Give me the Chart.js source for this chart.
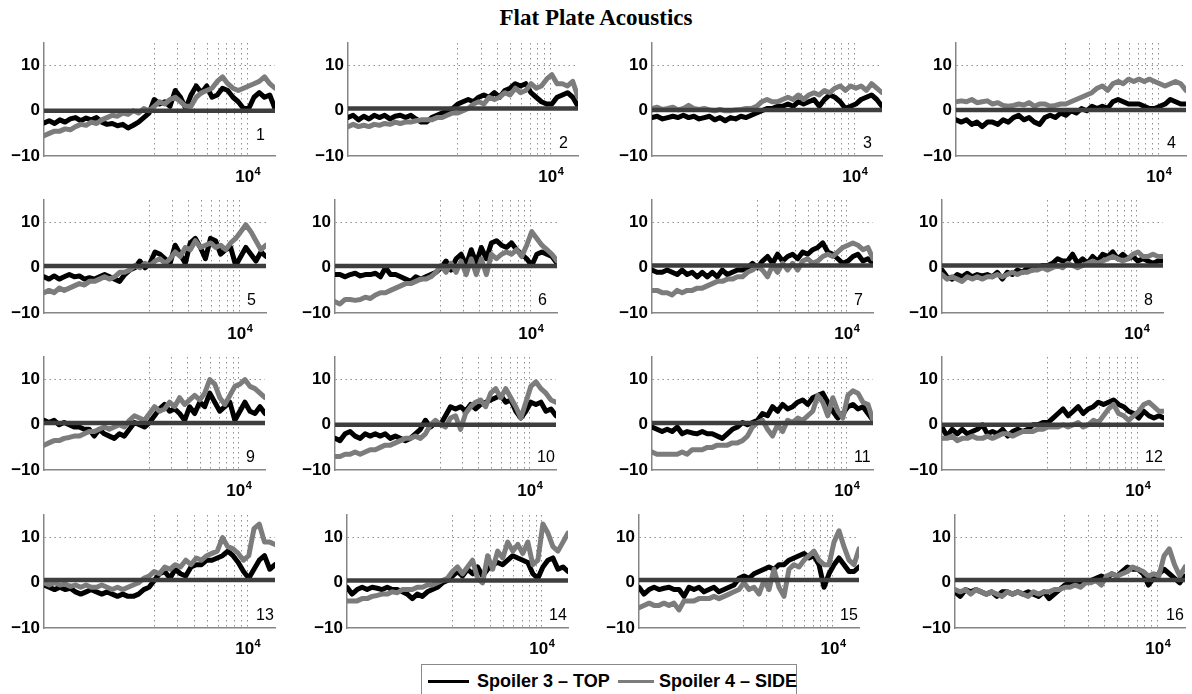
<!DOCTYPE html>
<html>
<head>
<meta charset="utf-8">
<title>Flat Plate Acoustics</title>
<script src="https://cdn.jsdelivr.net/npm/chart.js@4.4.1/dist/chart.umd.min.js"></script>
<style>
  html, body { margin: 0; padding: 0; background: #fff; }
  body { width: 1192px; height: 694px; overflow: hidden; position: relative;
         font-family: "Liberation Sans", Arial, sans-serif; }
  #title { position: absolute; left: 0; top: 5px; width: 1192px; text-align: center;
           font: bold 23px "Liberation Serif", "Times New Roman", serif; color: #000; }
  canvas { position: absolute; }
  #legend { position: absolute; left: 421px; top: 664px; width: 376px; height: 44px;
            border: 1px solid #8a8a8a; box-sizing: border-box; background: #fff; }
  #legend .sw { position: absolute; height: 3px; top: 15px; }
  #legend .tx { position: absolute; top: 6px; line-height: 20px; font-weight: bold; font-size: 18px;
                color: #000; white-space: nowrap; }
</style>
</head>
<body>
<div id="title">Flat Plate Acoustics</div>
<div id="legend">
  <div class="sw" style="left:6px;width:41px;background:#000"></div>
  <div class="tx" style="left:55px">Spoiler 3 – TOP</div>
  <div class="sw" style="left:196px;width:36px;background:#7c7c7c"></div>
  <div class="tx" style="left:237px">Spoiler 4 – SIDE</div>
</div>
<script>
// ---- data -------------------------------------------------------------
// frequency samples (Hz), shared by every panel
const freqHz = [300, 328, 360, 394, 431, 472, 516, 565, 619, 677,
                741, 811, 888, 972, 1063, 1164, 1274, 1395, 1527, 1671,
                1829, 2002, 2191, 2398, 2625, 2873, 3145, 3442, 3768, 4124,
                4514, 4941, 5409, 5921, 6481, 7094, 7765, 8499, 9303, 10183,
                11146, 12201, 13355, 14618, 16000];
const gridFreq = [2000, 3000, 4000, 5000, 6000, 7000, 8000, 9000, 10000];
const yTicks = [-10, 0, 10];

// Spoiler 3 - TOP (black) per microphone
const top1 = [-2.7,-2.2,-2.8,-2.0,-2.5, -1.8,-1.5,-2.2,-1.6,-2.0, -1.5,-2.5,-3.0,-2.8,-3.3, -3.0,-3.8,-3.2,-2.5,-1.5, -0.5,2.5,1.5,2.0,1.0, 4.5,3.0,0.5,3.5,5.5, 4.0,5.5,3.0,3.5,5.0, 4.5,3.0,2.0,0.5,0.5, 3.0,4.0,3.0,3.5,0.5];
const top2 = [-1.5,-1.0,-2.0,-1.2,-1.8, -1.0,-1.5,-1.0,-1.8,-1.2, -1.0,-1.5,-1.0,-1.8,-2.5, -2.5,-1.5,-1.0,-0.5,0.0, 0.5,1.5,2.0,2.5,2.0, 3.0,3.5,3.0,4.0,3.0, 4.5,5.0,6.0,5.5,6.0, 4.0,3.0,2.0,1.5,1.5, 3.0,3.5,4.0,3.0,1.0];
const top3 = [-1.5,-1.2,-1.8,-1.5,-1.2, -1.5,-1.0,-1.5,-1.2,-1.8, -1.5,-1.2,-2.0,-1.5,-2.2, -1.5,-1.8,-1.2,-1.5,-1.0, -0.5,0.0,0.5,0.5,1.0, 1.0,1.5,1.0,2.0,1.5, 2.0,2.5,1.0,2.5,3.5, 3.0,2.0,0.5,1.0,1.5, 2.5,3.0,3.5,2.5,1.0];
const top4 = [-2.0,-2.5,-2.0,-3.0,-2.5, -3.5,-2.5,-2.5,-3.0,-2.0, -2.5,-1.5,-1.0,-2.0,-1.5, -2.5,-3.0,-1.5,-1.0,-1.5, -0.5,-1.0,0.0,-0.5,0.5, 0.0,1.0,0.5,1.0,0.5, 2.0,2.5,2.0,1.5,1.5, 1.5,1.0,0.5,0.5,1.0, 1.5,2.5,2.0,1.5,1.5];
const top5 = [-2.0,-2.5,-1.8,-2.5,-2.0, -1.5,-2.0,-1.8,-2.5,-2.2, -2.5,-2.0,-1.5,-2.0,-2.5, -3.0,-1.5,-0.5,0.0,1.5, 0.0,1.0,3.5,3.0,2.0, 1.0,5.0,3.0,1.0,5.5, 6.5,4.5,2.0,6.5,6.0, 3.0,4.0,4.5,0.5,2.5, 4.5,3.0,1.5,3.5,2.5];
const top6 = [-1.5,-1.5,-2.0,-1.5,-1.2, -1.8,-1.5,-1.5,-1.2,-2.0, 0.0,-1.5,-1.5,-2.0,-2.5, -3.0,-2.0,-2.5,-2.0,-1.5, -1.0,0.0,1.5,-0.5,2.0, 3.0,0.5,4.0,1.0,4.5, 2.0,5.5,6.0,5.0,4.5, 5.5,4.0,3.0,2.0,0.5, 3.0,3.5,3.0,2.5,1.0];
const top7 = [-0.5,-1.0,-1.0,-0.5,-1.0, -1.5,-0.5,-1.5,-1.0,-2.0, -1.0,-2.0,-1.0,-2.0,-0.5, -1.5,-1.0,-0.5,-0.5,0.0, 1.0,0.0,1.5,2.5,1.0, 3.0,1.5,2.5,3.0,2.0, 3.5,3.0,4.0,4.5,5.5, 3.5,3.0,2.0,1.0,1.5, 2.5,3.0,1.5,2.0,1.0];
const top8 = [-0.5,-2.0,-2.5,-1.5,-2.0, -1.2,-2.0,-1.5,-1.8,-1.5, -2.0,-1.0,-2.5,-1.0,-1.5, -0.5,-1.0,0.0,-0.5,0.0, 0.5,0.5,1.0,2.0,1.5, 1.5,3.0,1.0,2.0,1.0, 2.5,1.5,3.0,2.5,3.5, 2.0,3.0,2.0,2.5,1.5, 2.0,1.5,1.0,1.5,1.5];
const top9 = [1.0,0.5,1.0,0.0,0.5, 0.0,-0.5,-0.5,-1.0,-1.0, -2.5,-1.0,-2.0,-2.5,-3.0, -2.0,-2.5,-1.0,0.5,0.0, -0.5,0.5,2.0,3.5,4.5, 3.0,3.5,2.5,1.0,4.0, 2.5,5.0,4.0,7.0,5.0, 3.0,4.0,5.0,1.0,3.0, 5.0,3.0,2.5,4.0,2.5];
const top10 = [-3.0,-3.5,-2.0,-1.5,-2.5, -3.0,-2.0,-2.5,-2.0,-2.5, -2.0,-3.0,-2.5,-3.0,-3.5, -3.0,-2.0,-1.0,1.0,-0.5, 0.5,0.0,2.0,4.0,3.5, 4.0,3.0,4.5,3.5,4.5, 5.0,5.5,6.0,6.5,5.0, 5.5,3.0,1.5,3.0,5.0, 4.5,5.0,3.0,3.5,2.0];
const top11 = [-0.5,-1.0,-1.5,-1.0,-1.5, -0.5,-2.0,-1.5,-1.8,-2.0, -1.5,-2.0,-2.0,-2.5,-3.0, -2.0,-1.0,-0.5,0.5,0.0, 0.5,1.0,2.5,2.0,4.0, 3.0,4.5,3.5,4.0,5.0, 5.5,4.5,6.0,6.5,7.0, 5.0,3.0,1.5,2.5,4.0, 4.5,3.5,4.0,2.5,1.0];
const top12 = [-0.5,-2.5,-1.0,-2.0,-1.0, -2.0,-1.5,-1.0,0.0,-2.0, -1.5,-2.0,-1.0,-2.5,-1.5, -1.0,-1.5,-1.0,0.0,0.0, 0.5,0.5,1.5,2.5,3.5, 2.0,3.0,4.0,2.5,3.5, 4.0,5.0,4.5,5.0,5.5, 4.5,4.0,3.0,2.5,1.5, 3.0,2.0,1.5,2.0,1.5];
const top13 = [-0.5,-1.0,-1.5,-1.0,-1.5, -1.2,-2.0,-2.5,-2.0,-1.5, -2.0,-2.5,-2.0,-2.5,-3.0, -2.5,-3.0,-3.0,-2.5,-1.5, -1.0,0.5,2.0,2.5,1.0, 3.0,2.0,1.5,3.5,4.0, 4.0,5.0,5.0,5.5,6.0, 7.0,6.0,4.5,2.5,1.0, 3.0,5.0,6.0,3.0,4.0];
const top14 = [-1.0,-2.5,-1.5,-1.0,-1.5, -1.0,-1.2,-1.5,-1.0,-1.5, -1.5,-2.0,-2.5,-3.5,-2.5, -3.0,-2.0,-1.5,-1.0,0.0, 0.5,1.5,2.5,1.5,3.0, 2.0,3.5,1.5,3.0,4.0, 4.5,4.0,5.0,6.0,5.5, 5.0,4.5,2.0,1.0,3.5, 5.0,5.5,3.0,3.5,2.5];
const top15 = [-1.0,-2.5,-1.5,-1.0,-1.5, -1.2,-1.0,-1.5,-1.5,-3.0, -1.0,-1.5,-1.0,-2.0,-1.5, -1.0,-2.0,-1.5,-1.0,-0.5, 1.0,1.5,1.0,2.0,2.5, 3.0,3.5,3.0,4.0,4.0, 5.0,5.5,6.0,6.5,5.5, 6.0,4.0,-1.0,2.0,4.0, 5.5,4.0,2.5,2.5,3.5];
const top16 = [-2.0,-3.0,-1.5,-2.0,-1.5, -2.0,-2.5,-2.0,-3.0,-2.0, -2.0,-2.5,-2.0,-2.5,-2.0, -2.5,-3.0,-2.0,-3.5,-2.5, -1.5,-0.5,0.0,-0.5,0.0, 0.5,0.5,1.0,1.5,1.0, 2.0,1.5,2.5,3.5,3.0, 3.0,2.0,-0.5,1.0,2.0, 3.0,2.0,1.0,0.0,1.5];

// Spoiler 4 - SIDE (grey) per microphone
const side1 = [-5.5,-5.0,-4.5,-4.5,-4.0, -4.2,-3.5,-3.0,-3.2,-2.5, -2.8,-2.0,-1.5,-1.0,-1.2, -0.5,-0.8,0.0,-0.5,0.5, 0.0,1.0,2.0,1.5,2.5, 3.0,2.0,1.0,1.0,3.0, 4.0,4.5,5.0,6.5,7.5, 6.0,5.0,4.5,5.0,5.5, 6.0,6.5,7.5,6.0,5.0];
const side2 = [-3.5,-3.0,-3.5,-3.2,-3.5, -3.0,-3.2,-2.8,-3.0,-2.5, -2.8,-2.5,-2.5,-2.2,-2.0, -2.0,-2.0,-1.5,-1.5,-1.0, -0.5,-0.5,0.0,0.5,1.5, 2.0,1.5,3.0,2.5,3.0, 4.0,3.5,5.0,4.0,4.5, 6.0,5.0,5.5,7.0,8.0, 6.0,6.0,5.5,6.5,3.0];
const side3 = [0.5,0.8,0.3,0.5,0.8, 0.2,0.5,1.2,0.5,0.3, 0.5,0.2,0.0,0.3,0.0, 0.0,0.2,0.3,0.5,0.5, 1.0,2.0,2.5,2.0,2.0, 2.5,3.0,2.5,3.5,2.5, 3.5,4.0,3.5,4.5,4.0, 5.0,5.5,4.5,5.5,5.0, 5.5,4.5,6.0,5.0,4.0];
const side4 = [2.0,2.2,2.0,2.5,1.8, 2.0,2.2,1.5,1.8,1.2, 1.0,1.2,1.5,1.3,1.8, 1.0,1.5,1.5,1.0,1.2, 1.5,1.5,2.0,2.5,3.0, 3.5,4.0,5.0,5.5,4.5, 6.0,6.5,6.0,7.0,6.5, 7.0,6.5,7.0,6.5,6.0, 5.5,6.0,6.5,6.0,4.5];
const side5 = [-5.5,-5.0,-5.5,-4.5,-5.0, -4.5,-4.0,-3.5,-3.8,-3.0, -3.0,-2.5,-2.0,-2.5,-2.0, -1.0,-1.0,-0.5,0.5,0.0, 1.0,0.5,1.5,2.0,1.0, 2.0,3.5,2.5,4.5,4.0, 6.0,4.5,5.0,5.5,4.5, 5.0,4.0,5.5,6.5,8.0, 9.5,8.0,6.0,4.0,5.0];
const side6 = [-7.5,-8.0,-7.0,-7.0,-7.2, -7.0,-6.5,-6.8,-6.0,-5.5, -5.5,-5.0,-4.5,-4.0,-3.5, -3.5,-3.0,-2.5,-2.5,-2.0, -1.0,0.5,-1.0,1.0,-1.0, 1.5,-1.5,2.0,-1.5,2.0, -1.5,3.0,2.0,3.0,3.5, 3.0,4.0,2.5,5.0,8.0, 6.5,5.0,4.0,3.0,1.5];
const side7 = [-5.0,-5.0,-5.5,-5.5,-6.0, -5.0,-5.5,-5.0,-5.0,-4.5, -4.5,-4.0,-3.5,-3.0,-3.0, -2.5,-2.5,-2.0,-2.0,-1.0, -0.5,0.5,-0.5,-2.0,0.5, -1.0,1.0,-0.5,1.0,-0.5, 1.5,2.0,1.0,1.5,2.5, 3.0,2.5,3.5,4.5,5.0, 5.5,5.0,4.0,4.5,2.0];
const side8 = [-1.5,-2.5,-2.0,-2.5,-3.0, -2.0,-2.5,-2.0,-2.5,-2.0, -2.0,-1.5,-2.0,-1.5,-1.0, -1.5,-1.0,-1.0,-0.5,-0.5, 0.0,-0.5,0.0,0.5,0.0, 1.0,0.5,0.0,0.5,1.0, 1.5,1.0,1.5,2.0,2.5, 2.0,1.5,2.0,3.0,3.5, 2.5,2.5,3.0,2.5,2.5];
const side9 = [-4.5,-4.0,-3.5,-3.5,-3.0, -2.8,-2.5,-2.5,-2.0,-1.5, -1.5,-1.0,-0.5,-1.0,-0.5, 0.0,-0.5,1.0,2.0,1.5, 1.0,2.5,4.0,3.0,3.5, 5.0,4.0,6.0,4.5,5.5, 6.5,5.5,7.0,10.0,9.0, 6.0,4.5,6.5,8.5,9.0, 10.0,8.5,8.0,7.0,6.0];
const side10 = [-7.0,-7.0,-6.5,-6.5,-6.0, -6.5,-6.0,-5.5,-5.5,-5.0, -4.5,-4.5,-4.0,-3.5,-3.0, -3.0,-2.5,-3.0,-2.0,0.0, 1.0,0.0,-0.5,1.5,2.0, -1.0,2.5,4.0,5.0,5.5, 4.0,7.0,8.0,6.0,8.0, 6.0,4.0,1.5,5.0,8.5, 9.5,8.0,7.0,5.5,5.0];
const side11 = [-6.0,-6.5,-6.5,-6.5,-6.5, -6.5,-6.0,-6.5,-5.5,-5.5, -5.5,-5.0,-5.0,-4.5,-4.5, -4.5,-4.0,-4.0,-3.5,-2.5, -0.5,0.5,1.0,-1.0,-2.5, 0.0,-1.5,1.0,0.5,1.5, 1.0,2.0,3.0,6.5,5.0, 2.0,6.0,3.0,1.5,6.5, 7.5,7.0,5.0,4.5,1.0];
const side12 = [-3.0,-3.0,-2.5,-3.5,-3.0, -3.0,-2.5,-3.0,-3.0,-2.5, -3.0,-2.5,-2.0,-2.0,-2.5, -2.0,-1.5,-1.5,-1.5,-1.0, -1.0,-0.5,-0.5,-0.5,0.0, -0.5,0.0,0.5,-0.5,0.0, 1.0,0.5,2.0,3.5,4.5, 2.5,2.0,1.0,2.0,3.0, 4.5,5.0,4.0,3.0,3.0];
const side13 = [0.0,-0.5,0.0,-0.5,-0.3, -0.8,-0.5,-1.0,-0.5,-1.0, -1.0,-0.5,-1.0,-1.5,-1.0, -1.5,-1.0,-0.5,0.0,1.0, 1.5,2.5,2.0,3.5,3.0, 4.0,3.5,5.0,4.0,5.5, 5.0,6.0,6.5,7.0,10.0, 8.0,7.5,6.5,5.0,6.0, 12.0,13.0,9.0,9.0,8.5];
const side14 = [-4.0,-4.0,-4.0,-3.5,-3.5, -3.0,-2.8,-2.5,-2.5,-2.0, -2.2,-1.5,-1.5,-1.5,-1.0, -1.0,-0.5,-0.5,0.0,0.5, 1.0,2.5,3.5,2.0,3.5, 5.0,1.0,0.0,6.0,3.0, 7.0,5.5,9.0,7.0,8.5, 6.5,9.0,4.0,5.0,13.0, 11.0,8.0,7.0,9.0,11.0];
const side15 = [-5.5,-5.0,-4.5,-5.0,-5.0, -4.5,-5.0,-4.5,-6.0,-4.0, -4.0,-4.0,-3.5,-3.5,-3.5, -3.0,-3.5,-3.0,-2.5,-2.0, -1.5,0.0,-1.5,-1.0,-2.5, 0.5,-1.5,3.0,-1.0,-3.0, 3.0,4.0,3.5,5.0,6.0, 7.0,5.0,4.0,4.0,9.0, 11.5,8.0,5.0,4.0,7.5];
const side16 = [-1.5,-2.0,-1.5,-2.5,-1.5, -2.0,-2.5,-2.0,-2.5,-3.0, -2.0,-2.5,-2.0,-2.5,-3.0, -2.0,-2.5,-2.0,-2.0,-1.5, -1.5,-1.0,-1.0,-0.5,-1.0, 0.0,0.0,0.5,-0.5,1.5, 2.0,1.5,2.0,2.5,3.5, 3.0,2.5,1.5,2.0,1.5, 6.0,7.5,4.0,1.5,3.5];

// level of the horizontal reference line in each panel
const refLevel = [0, 0.5, 0.2, 0.2, 0.4, 0.4, 0.5, 0.5, 0.4, 0, 0.4, 0, 0.6, 0.5, 0.6, 0.6];

const topSeries  = [top1, top2, top3, top4, top5, top6, top7, top8, top9, top10, top11, top12, top13, top14, top15, top16];
const sideSeries = [side1, side2, side3, side4, side5, side6, side7, side8, side9, side10, side11, side12, side13, side14, side15, side16];

// ---- layout -----------------------------------------------------------
const FREQ_MIN = 300, FREQ_MAX = 16000;
const frameLeft  = [44, 348, 652, 956,  44, 335, 652, 942,  44, 335, 652, 942,  44, 347, 639, 955];
const frameWidth = [231, 230, 230, 230, 222, 222, 221, 221, 221, 221, 221, 222, 231, 221, 220, 230];
const rowTop = [43, 200, 357, 515];
const FRAME_H = 113;
const AXIS_W = 44, AXIS_H = 34, PAD_T = 8, PAD_R = 8;

const AXIS_COLOR = '#858585';
const GRID_COLOR = '#8f8f8f';
const LABEL_FAMILY = '"Liberation Sans", Arial, sans-serif';
const TICK_FONT = { family: LABEL_FAMILY, size: 17, weight: 'bold' };

// decade label under the 10^4 grid line and the panel number
const panelText = {
  id: 'panelText',
  afterDraw(chart, args, opts) {
    const { ctx, chartArea } = chart;
    const xs = chart.scales.x;
    const px = xs.getPixelForValue(10000);
    ctx.save();
    ctx.fillStyle = '#000';
    ctx.textBaseline = 'middle';
    ctx.textAlign = 'left';
    ctx.font = 'bold 17px ' + LABEL_FAMILY;
    const w1 = ctx.measureText('10').width;
    ctx.font = 'bold 11px ' + LABEL_FAMILY;
    const w2 = ctx.measureText('4').width;
    const x0 = px - (w1 + w2) / 2;
    ctx.font = 'bold 17px ' + LABEL_FAMILY;
    ctx.fillText('10', x0, chartArea.bottom + 21);
    ctx.font = 'bold 11px ' + LABEL_FAMILY;
    ctx.fillText('4', x0 + w1 + 0.5, chartArea.bottom + 15.5);
    ctx.font = '16px ' + LABEL_FAMILY;
    ctx.fillText(String(opts.num), chartArea.right - 19, chartArea.bottom - opts.rise);
    ctx.restore();
  }
};

function points(values) {
  return values.map((v, i) => ({ x: freqHz[i], y: v }));
}

function makePanel(p) {
  const row = Math.floor(p / 4);
  const W = frameWidth[p];
  const cw = AXIS_W + W + PAD_R;
  const ch = PAD_T + FRAME_H + AXIS_H;
  const cv = document.createElement('canvas');
  cv.width = cw; cv.height = ch;
  cv.style.width = cw + 'px'; cv.style.height = ch + 'px';
  cv.style.left = (frameLeft[p] - AXIS_W) + 'px';
  cv.style.top = (rowTop[row] - PAD_T) + 'px';
  document.body.appendChild(cv);

  new Chart(cv, {
    type: 'line',
    data: {
      datasets: [
        { label: 'reference', data: [{ x: FREQ_MIN, y: refLevel[p] }, { x: FREQ_MAX, y: refLevel[p] }],
          borderColor: '#3e3e3e', borderWidth: 4.5, order: 0 },
        { label: 'Spoiler 4 – SIDE', data: points(sideSeries[p]),
          borderColor: '#7c7c7c', borderWidth: 5, order: 1 },
        { label: 'Spoiler 3 – TOP', data: points(topSeries[p]),
          borderColor: '#000000', borderWidth: 5, order: 2 }
      ]
    },
    plugins: [panelText],
    options: {
      responsive: false,
      animation: false,
      devicePixelRatio: 1,
      events: [],
      layout: { padding: { top: PAD_T, right: PAD_R, left: 0, bottom: 0 } },
      elements: {
        point: { radius: 0 },
        line: { tension: 0, borderJoinStyle: 'round', borderCapStyle: 'round' }
      },
      plugins: {
        legend: { display: false },
        tooltip: { enabled: false },
        panelText: { num: p + 1, rise: p === 0 ? 20 : 12 }
      },
      scales: {
        x: {
          type: 'logarithmic', min: FREQ_MIN, max: FREQ_MAX,
          afterBuildTicks: s => { s.ticks = gridFreq.map(v => ({ value: v })); },
          afterFit: s => { s.height = AXIS_H; s.paddingLeft = 0; s.paddingRight = 0; },
          ticks: { display: false },
          grid: { drawTicks: false, color: GRID_COLOR, lineWidth: 1 },
          border: { display: true, color: AXIS_COLOR, width: 1.5, dash: [1.5, 3.5] }
        },
        y: {
          min: -10, max: 15,
          afterBuildTicks: s => { s.ticks = yTicks.map(v => ({ value: v })); },
          afterFit: s => { s.width = AXIS_W; s.paddingTop = 0; s.paddingBottom = 0; },
          ticks: {
            padding: 4, color: '#000', font: TICK_FONT,
            callback: v => (v < 0 ? '\u2212' + Math.abs(v) : String(v))
          },
          grid: {
            drawTicks: false, lineWidth: 1,
            color: c => (c.tick && c.tick.value === 10 ? GRID_COLOR : 'rgba(0,0,0,0)')
          },
          border: { display: true, color: AXIS_COLOR, width: 1.5, dash: [1.5, 3.5] }
        }
      }
    }
  });
}

for (let p = 0; p < 16; p++) makePanel(p);
</script>
</body>
</html>
